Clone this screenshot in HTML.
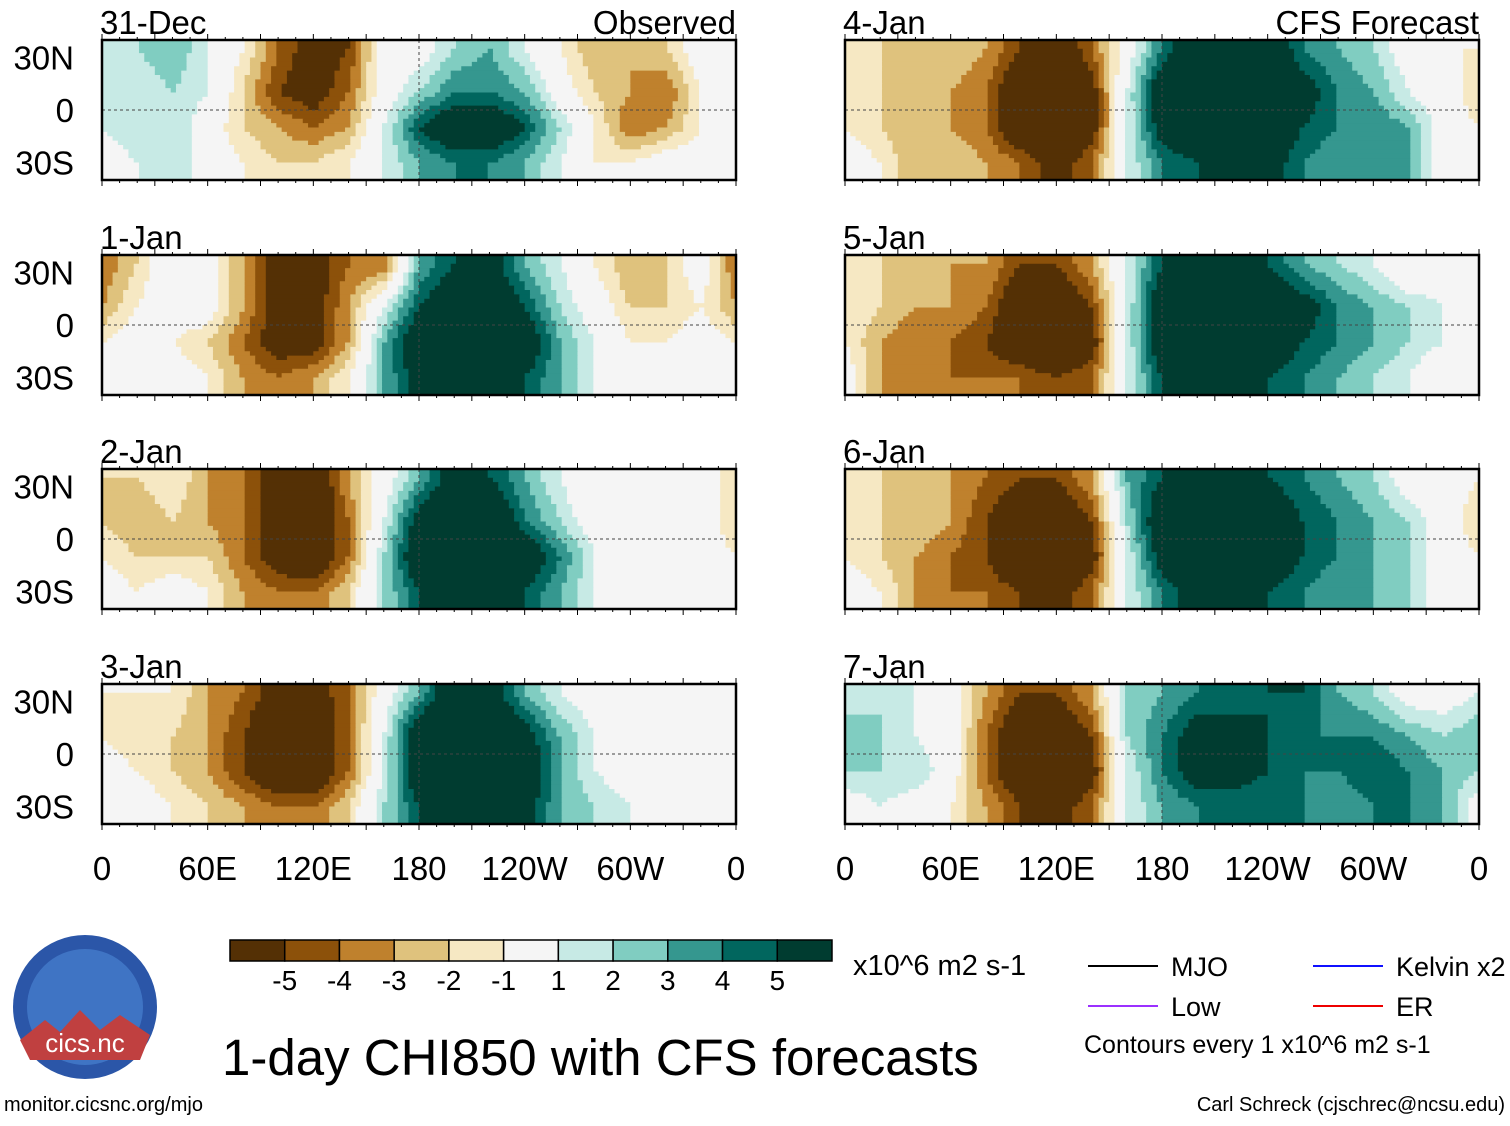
<!DOCTYPE html>
<html><head><meta charset="utf-8"><style>
body{margin:0;background:#fff;width:1510px;height:1121px;overflow:hidden;font-family:"Liberation Sans",sans-serif}
svg text{font-family:"Liberation Sans",sans-serif}
</style></head><body>
<svg id="s" width="1510" height="1121"></svg>
<script>
const panelTitles=["31-Dec","1-Jan","2-Jan","3-Jan","4-Jan","5-Jan","6-Jan","7-Jan"];
const dataLons=[0,20,40,60,80,100,120,140,160,180,200,220,240,260,280,300,320,340];
const dataLats=[35,10,-10,-30];
const p0=[[1,2,3,1,-1,-4,-6,-5,0,0,2,3,1,-1,-3,-3,-2,0],[1,1,2,1,-2,-5,-6,-4,0,2,4,4,3,0,-2,-3,-4,-1],[1,2,2,0,-2,-3,-4,-3,1,5,7,7,5,2,-1,-4,-3,-1],[0,1,2,0,-1,-2,-2,-1,1,3,4,4,3,1,-1,-1,0,0]];
const p1=[[-4,-2,1,0,-3,-6,-6,-4,-4,3,5,6,3,1,-1,-3,-2,0],[-3,-1,0,0,-3,-6,-6,-3,1,5,7,7,5,2,0,-2,-2,-1],[-1,0,-1,-2,-4,-6,-6,-3,3,7,8,8,7,3,1,-1,-1,0],[0,1,0,-1,-3,-4,-3,-1,3,6,7,7,5,3,1,0,0,0]];
const p2=[[-2,-2,-1,-3,-4,-6,-7,-3,0,3,6,5,3,1,-1,-1,-1,0],[-2,-3,-2,-3,-4,-6,-7,-4,1,6,8,8,4,2,0,-1,0,0],[-1,-2,-2,-2,-4,-6,-7,-4,2,7,8,8,7,4,1,0,0,0],[0,-1,0,-1,-3,-4,-4,-2,2,5,6,7,5,3,1,0,0,0]];
const p3=[[-1,-1,-1,-3,-4,-6,-6,-4,0,3,7,6,3,1,0,0,0,0],[-1,-2,-2,-3,-5,-7,-7,-4,1,7,8,8,6,3,1,0,0,0],[0,-1,-2,-3,-5,-7,-7,-4,1,7,8,8,7,3,1,0,0,0],[0,0,-1,-2,-3,-4,-4,-2,2,5,7,7,6,3,2,1,0,0]];
const p4=[[-1,-2,-3,-2,-3,-5,-7,-4,0,4,7,8,7,4,3,2,0,-1],[-2,-2,-3,-3,-4,-7,-8,-6,1,7,8,8,7,6,4,3,1,0],[-1,-2,-3,-3,-4,-7,-8,-6,1,6,7,7,7,5,4,4,3,0],[0,-1,-3,-2,-3,-4,-6,-4,1,4,5,6,6,4,3,3,3,0]];
const p5=[[-1,-2,-3,-3,-3,-5,-5,-3,1,5,7,7,5,3,2,1,-1,0],[-1,-2,-3,-3,-4,-7,-7,-5,1,7,8,8,7,6,4,3,2,1],[-1,-3,-4,-4,-5,-7,-8,-6,1,7,8,8,7,5,4,3,2,1],[0,-3,-4,-4,-4,-4,-5,-4,1,5,6,7,5,4,3,2,1,-1]];
const p6=[[-1,-2,-3,-3,-4,-5,-5,-3,3,5,6,7,5,4,3,2,0,0],[-2,-2,-2,-3,-5,-7,-7,-5,2,7,8,8,7,5,4,3,2,0],[-1,-2,-3,-4,-5,-8,-8,-6,1,6,8,8,7,5,4,3,2,0],[0,-1,-3,-4,-4,-5,-6,-4,1,4,6,6,5,4,3,3,2,0]];
const p7=[[1,2,1,0,-3,-5,-5,-3,2,3,4,4,5,5,3,2,0,0],[3,2,1,0,-4,-7,-7,-5,2,4,6,6,5,4,4,4,3,2],[2,2,2,0,-4,-7,-8,-6,1,4,6,6,5,4,4,5,4,3],[0,1,0,-1,-3,-5,-6,-4,1,3,4,4,4,4,3,4,4,3]];
const panelData=[p0,p1,p2,p3,p4,p5,p6,p7];
const colorLevels=[-5,-4,-3,-2,-1,1,2,3,4,5];
const colorbarLabels=["-5","-4","-3","-2","-1","1","2","3","4","5"];
const xTickLabels=["0","60E","120E","180","120W","60W","0"];
const xTickLons=[0,60,120,180,240,300,360];
const colors=["#543005","#8c510a","#bf812d","#dfc27d","#f6e8c3","#f5f5f5","#c7eae5","#80cdc1","#35978f","#01665e","#003c30"];

const NS="http://www.w3.org/2000/svg";
const svg=document.getElementById('s');
function mk(tag,attrs,parent){const e=document.createElementNS(NS,tag);for(const k in attrs)e.setAttribute(k,attrs[k]);(parent||svg).appendChild(e);return e;}
function colorOf(v){let i=0;while(i<colorLevels.length&&v>=colorLevels[i])i++;return colors[i];}
function sample(d,lon,lat){
  let fx=lon/20;let i0=Math.floor(fx)%18;let i1=(i0+1)%18;let tx=fx-Math.floor(fx);
  let la=Math.max(-30,Math.min(35,lat));let j=0;while(j<2&&la<dataLats[j+1])j++;
  let ty=(dataLats[j]-la)/(dataLats[j]-dataLats[j+1]);
  const a=d[j][i0]*(1-tx)+d[j][i1]*tx,b=d[j+1][i0]*(1-tx)+d[j+1][i1]*tx;
  return a*(1-ty)+b*ty;
}
const PW=634,PH=140;
const colX=[102,845],rowY=[40,255,469,684];
panelData.forEach((d,p)=>{
  const x0=colX[p<4?0:1],y0=rowY[p%4];
  const xs=lon=>x0+lon/360*PW, ys=lat=>y0+(40-lat)/80*PH;
  const g=mk('g',{});
  
  
  const step=3,lstep=2.5;
  for(let lat=40;lat>-40;lat-=lstep){
    let runStart=0,runCol=null;
    for(let lon=0;lon<=360;lon+=step){
      const c=lon<360?colorOf(sample(d,lon+step/2,lat-lstep/2)):null;
      if(c!==runCol){
        if(runCol){const r=mk('rect',{x:xs(runStart),y:ys(lat),width:xs(lon)-xs(runStart)+0.5,height:ys(lat-lstep)-ys(lat)+0.5,fill:runCol},g);
          
          }
        runStart=lon;runCol=c;
      }
    }
  }
  mk('line',{x1:x0,x2:x0+PW,y1:ys(0),y2:ys(0),stroke:'#444','stroke-dasharray':'3,3','stroke-width':1},g);
  mk('line',{x1:xs(180),x2:xs(180),y1:y0,y2:y0+PH,stroke:'#444','stroke-dasharray':'3,3','stroke-width':1},g);
  mk('rect',{x:x0,y:y0,width:PW,height:PH,fill:'none',stroke:'#000','stroke-width':2.5},g);
  for(let lon=0;lon<=360;lon+=10){const t=lon%30==0?6:3;
    mk('line',{x1:xs(lon),x2:xs(lon),y1:y0,y2:y0-t,stroke:'#000'},g);
    mk('line',{x1:xs(lon),x2:xs(lon),y1:y0+PH,y2:y0+PH+t,stroke:'#000'},g);}
  const t=mk('text',{x:x0-2,y:y0-6,'font-size':33},g);t.textContent=panelTitles[p];
  
  if(p%4==0){const r=mk('text',{x:x0+PW,y:y0-6,'font-size':33,'text-anchor':'end'},g);r.textContent=p==0?'Observed':'CFS Forecast';}
  if(p<4){[["30N",30],["0",0],["30S",-30]].forEach(([l,la])=>{const e=mk('text',{x:74,y:ys(la)+12,'font-size':33,'text-anchor':'end'},g);e.textContent=l;});}
  if(p%4==3){xTickLabels.forEach((l,i)=>{const e=mk('text',{x:xs(xTickLons[i]),y:880,'font-size':33,'text-anchor':'middle'},g);e.textContent=l;
    });}
});
const cb=mk('g',{});
const cbw=(832-230)/11;
colors.forEach((c,i)=>mk('rect',{x:230+i*cbw,y:940,width:cbw,height:21,fill:c,stroke:'#000','stroke-width':1.5},cb));
colorbarLabels.forEach((l,i)=>{const e=mk('text',{x:230+(i+1)*cbw,y:990,'font-size':28,'text-anchor':'middle'},cb);e.textContent=l;});
const u=mk('text',{x:853,y:975,'font-size':29},cb);u.textContent='x10^6 m2 s-1';
const ti=mk('text',{x:222,y:1075,'font-size':51},svg);ti.textContent='1-day CHI850 with CFS forecasts';

const lg=mk('g',{});
[[1088,966,'#000','MJO'],[1088,1006,'#9b30ff','Low'],[1313,966,'#1010ff','Kelvin x2'],[1313,1006,'#e00','ER']].forEach(([x,y,c,l])=>{
  mk('line',{x1:x,x2:x+70,y1:y,y2:y,stroke:c,'stroke-width':2},lg);const e=mk('text',{x:x+83,y:y+10,'font-size':27},lg);e.textContent=l;});
const ce=mk('text',{x:1084,y:1053,'font-size':25},lg);ce.textContent='Contours every 1 x10^6 m2 s-1';
const lo=mk('g',{});
mk('circle',{cx:85,cy:1007,r:72,fill:'#2b56a8'},lo);
mk('circle',{cx:85,cy:1007,r:58,fill:'#3f74c4'},lo);
mk('path',{d:'M20 1040 L45 1020 L60 1032 L80 1010 L100 1030 L120 1015 L150 1035 L140 1060 L30 1060Z',fill:'#c04040'},lo);
const lt=mk('text',{x:85,y:1052,'font-size':26,'text-anchor':'middle',fill:'#fff'},lo);lt.textContent='cics.nc';
const f1=mk('text',{x:4,y:1111,'font-size':20},svg);f1.textContent='monitor.cicsnc.org/mjo';
const f2=mk('text',{x:1505,y:1111,'font-size':20,'text-anchor':'end'},svg);f2.textContent='Carl Schreck (cjschrec@ncsu.edu)';
</script>
</body></html>
